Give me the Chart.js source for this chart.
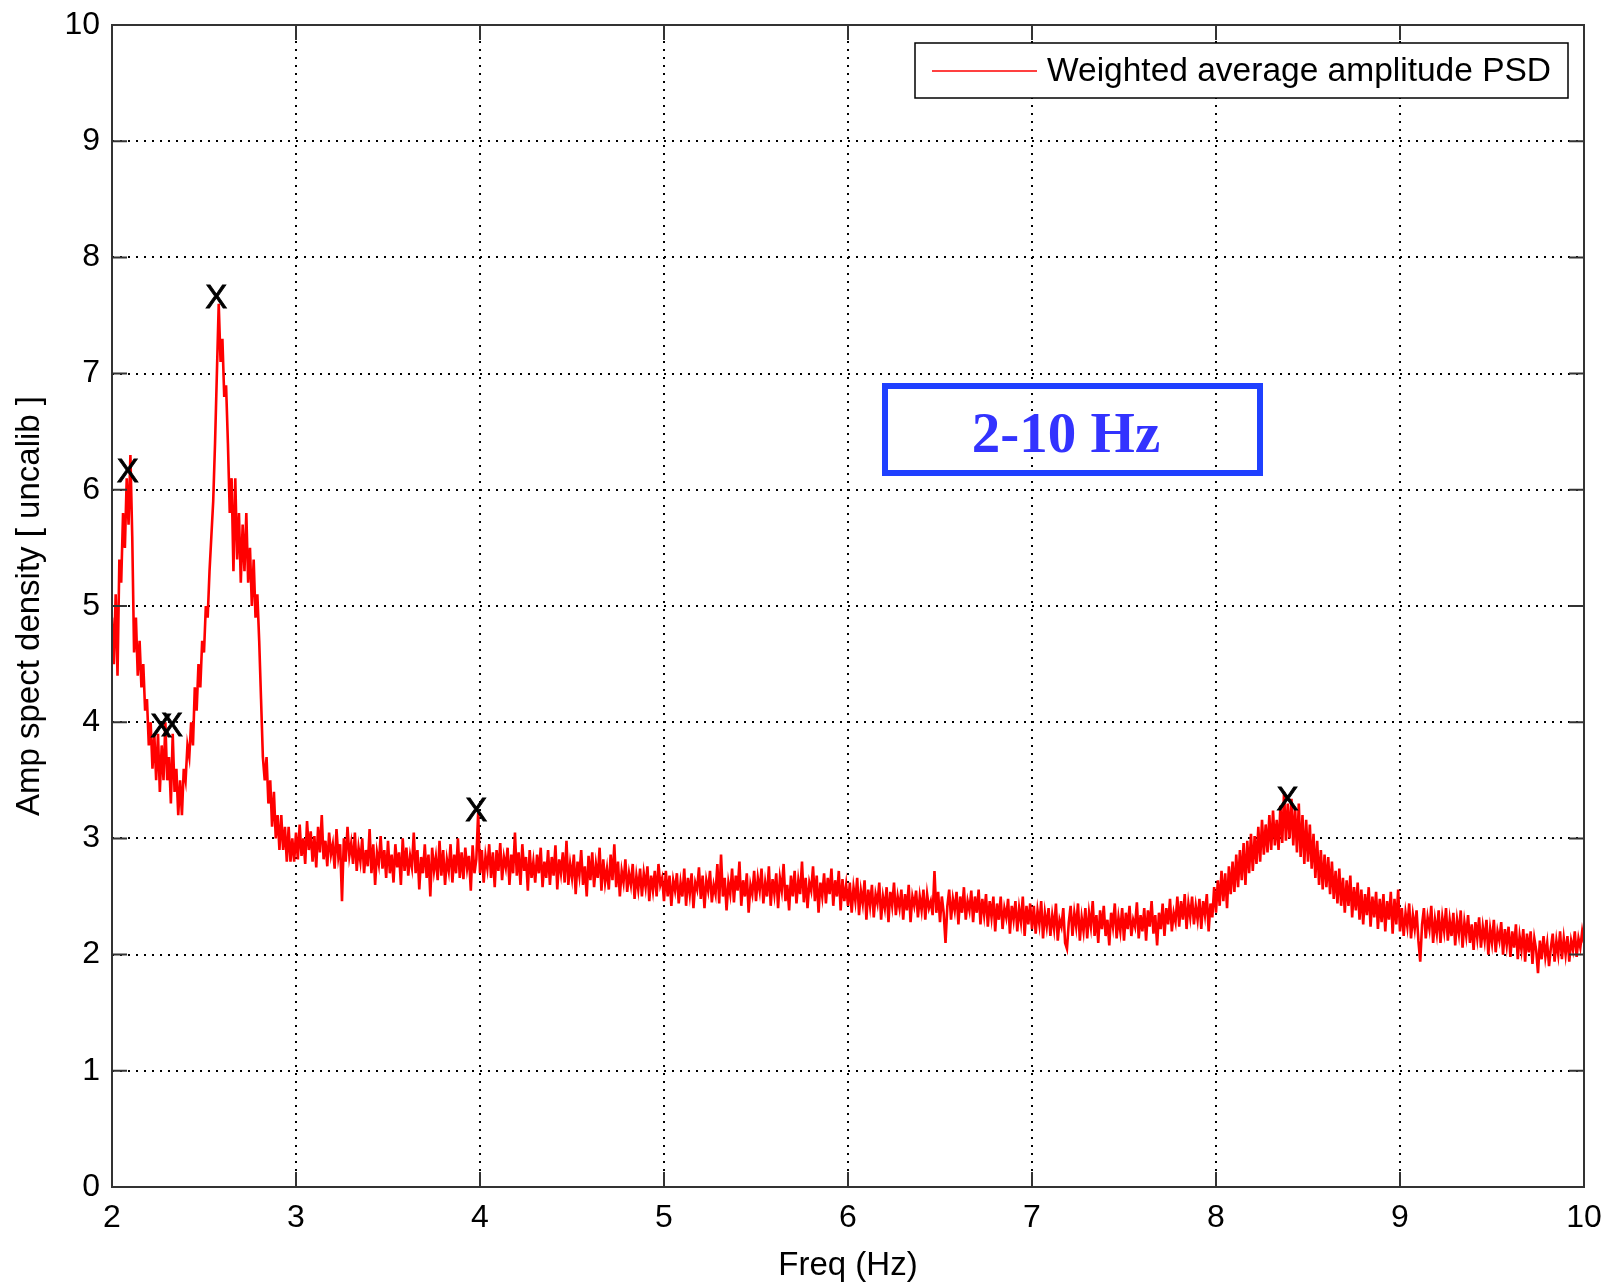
<!DOCTYPE html>
<html>
<head>
<meta charset="utf-8">
<script src="https://cdn.jsdelivr.net/npm/chart.js@4/dist/chart.umd.min.js"></script>
<style>
  html, body { margin: 0; padding: 0; background: #fff; }
  #chart-psd { display: block; }
</style>
</head>
<body>
<canvas id="chart-psd" width="1606" height="1286"></canvas>
<script>
//************ Data (one array per 1 Hz, step 0.01 Hz) */
const freqStart = 2
const freqStep = 0.01

const psd_2 = [4.9, 4.5, 5.1, 4.4, 5.4, 5.2, 5.8, 5.5, 6.1, 5.7,
               6.3, 5.6, 4.6, 4.9, 4.4, 4.7, 4.3, 4.5, 4.1, 4.2,
               3.8, 4.0, 3.6, 3.9, 3.5, 3.9, 3.4, 3.8, 3.5, 4.0,
               3.5, 3.7, 3.3, 3.9, 3.4, 3.6, 3.2, 3.5, 3.2, 3.6,
               3.5, 3.8, 3.7, 4.0, 3.8, 4.3, 4.1, 4.5, 4.3, 4.7,
               4.6, 5.0, 4.9, 5.3, 5.6, 5.9, 6.4, 7.0, 7.6, 7.1,
               7.3, 6.8, 6.9, 6.4, 5.8, 6.1, 5.3, 6.1, 5.4, 5.8,
               5.2, 5.7, 5.3, 5.8, 5.2, 5.5, 5.0, 5.4, 4.9, 5.1,
               4.7, 4.2, 3.7, 3.5, 3.7, 3.3, 3.5, 3.1, 3.4, 3.0,
               3.2, 2.9, 3.2, 2.9, 3.1, 2.8, 3.1, 2.8, 3.0, 2.8]

const psd_3 = [3.05, 2.82, 3.12, 2.85, 3.0, 2.78, 3.15, 2.9, 3.06, 2.8,
               3.02, 2.75, 3.1, 2.88, 3.2, 2.82, 2.98, 2.76, 3.05, 2.86,
               2.95, 2.74, 3.08, 2.84, 2.95, 2.46, 3.0, 2.8, 3.1, 2.85,
               2.96, 2.78, 3.05, 2.72, 2.92, 2.8, 3.0, 2.7, 2.9, 2.76,
               3.08, 2.7, 2.95, 2.6, 2.88, 2.78, 3.02, 2.74, 2.9, 2.66,
               2.98, 2.7, 2.86, 2.62, 2.95, 2.75, 2.88, 2.6, 3.0, 2.72,
               2.92, 2.68, 2.85, 2.75, 3.05, 2.7, 2.9, 2.56, 2.84, 2.7,
               2.95, 2.66, 2.86, 2.5, 2.92, 2.72, 2.84, 2.64, 2.98, 2.68,
               2.9, 2.6, 2.82, 2.72, 2.95, 2.62, 2.86, 2.7, 3.0, 2.66,
               2.88, 2.65, 2.92, 2.74, 2.85, 2.55, 2.94, 2.7, 2.82, 3.22]

const psd_4 = [2.7, 2.9, 2.62, 2.85, 2.74, 2.95, 2.66, 2.88, 2.58, 2.9,
               2.72, 2.96, 2.64, 2.84, 2.75, 2.92, 2.6, 2.86, 2.7, 3.05,
               2.68, 2.88, 2.6, 2.95, 2.72, 2.84, 2.55, 2.9, 2.66, 2.8,
               2.62, 2.86, 2.7, 2.92, 2.58, 2.8, 2.66, 2.9, 2.6, 2.84,
               2.68, 2.94, 2.56, 2.82, 2.7, 2.88, 2.62, 2.98, 2.6, 2.78,
               2.66, 2.86, 2.52, 2.8, 2.68, 2.9, 2.6, 2.76, 2.5, 2.85,
               2.64, 2.88, 2.58, 2.78, 2.66, 2.92, 2.55, 2.82, 2.62, 2.74,
               2.56, 2.86, 2.64, 2.95, 2.58, 2.8, 2.5, 2.72, 2.62, 2.82,
               2.54, 2.7, 2.6, 2.78, 2.48, 2.68, 2.56, 2.74, 2.5, 2.7,
               2.58, 2.76, 2.46, 2.68, 2.55, 2.72, 2.5, 2.78, 2.6, 2.66]

const psd_5 = [2.46, 2.72, 2.5, 2.68, 2.42, 2.64, 2.55, 2.7, 2.44, 2.62,
               2.5, 2.74, 2.42, 2.66, 2.52, 2.7, 2.4, 2.62, 2.56, 2.75,
               2.48, 2.68, 2.4, 2.64, 2.55, 2.72, 2.45, 2.6, 2.52, 2.78,
               2.44, 2.86, 2.5, 2.66, 2.38, 2.62, 2.52, 2.74, 2.45, 2.68,
               2.55, 2.8, 2.42, 2.64, 2.5, 2.7, 2.36, 2.6, 2.52, 2.72,
               2.46, 2.66, 2.55, 2.74, 2.44, 2.62, 2.5, 2.76, 2.42, 2.65,
               2.52, 2.7, 2.4, 2.66, 2.55, 2.78, 2.46, 2.6, 2.38, 2.68,
               2.5, 2.72, 2.44, 2.64, 2.52, 2.8, 2.45, 2.66, 2.4, 2.62,
               2.55, 2.76, 2.46, 2.68, 2.36, 2.62, 2.5, 2.7, 2.44, 2.66,
               2.52, 2.74, 2.42, 2.64, 2.5, 2.72, 2.38, 2.65, 2.46, 2.6]

const psd_6 = [2.42, 2.62, 2.36, 2.58, 2.46, 2.66, 2.34, 2.55, 2.44, 2.64,
               2.3, 2.56, 2.42, 2.6, 2.32, 2.52, 2.44, 2.62, 2.3, 2.5,
               2.4, 2.58, 2.28, 2.54, 2.42, 2.62, 2.34, 2.5, 2.4, 2.56,
               2.3, 2.52, 2.38, 2.6, 2.28, 2.5, 2.42, 2.55, 2.32, 2.5,
               2.38, 2.56, 2.3, 2.52, 2.4, 2.46, 2.34, 2.72, 2.36, 2.54,
               2.28, 2.5, 2.36, 2.1, 2.42, 2.56, 2.3, 2.48, 2.38, 2.54,
               2.26, 2.5, 2.36, 2.58, 2.3, 2.46, 2.38, 2.55, 2.28, 2.5,
               2.36, 2.56, 2.26, 2.48, 2.34, 2.52, 2.24, 2.46, 2.32, 2.5,
               2.2, 2.44, 2.3, 2.5, 2.22, 2.4, 2.32, 2.48, 2.18, 2.42,
               2.3, 2.46, 2.2, 2.4, 2.28, 2.5, 2.16, 2.42, 2.26, 2.44]

const psd_7 = [2.22, 2.42, 2.18, 2.38, 2.26, 2.46, 2.14, 2.36, 2.24, 2.4,
               2.16, 2.34, 2.22, 2.44, 2.12, 2.3, 2.24, 2.4, 2.1, 2.05,
               2.28, 2.42, 2.16, 2.36, 2.24, 2.44, 2.12, 2.32, 2.2, 2.4,
               2.14, 2.36, 2.24, 2.46, 2.16, 2.34, 2.1, 2.38, 2.22, 2.42,
               2.16, 2.3, 2.08, 2.36, 2.24, 2.44, 2.14, 2.32, 2.2, 2.4,
               2.12, 2.36, 2.22, 2.42, 2.16, 2.3, 2.24, 2.45, 2.14, 2.34,
               2.2, 2.4, 2.12, 2.38, 2.24, 2.46, 2.18, 2.34, 2.08, 2.36,
               2.22, 2.44, 2.16, 2.4, 2.26, 2.48, 2.2, 2.36, 2.28, 2.5,
               2.24, 2.46, 2.3, 2.52, 2.22, 2.44, 2.32, 2.5, 2.26, 2.42,
               2.3, 2.48, 2.22, 2.46, 2.34, 2.52, 2.2, 2.44, 2.32, 2.58]

const psd_8 = [2.36, 2.64, 2.42, 2.72, 2.46, 2.7, 2.4, 2.76, 2.52, 2.8,
               2.54, 2.86, 2.58, 2.9, 2.64, 2.96, 2.6, 2.98, 2.7, 3.04,
               2.72, 3.02, 2.78, 3.1, 2.8, 3.16, 2.86, 3.12, 2.88, 3.2,
               2.9, 3.24, 2.94, 3.16, 2.9, 3.28, 2.96, 3.4, 2.98, 3.3,
               3.0, 3.34, 2.94, 3.26, 2.88, 3.3, 2.84, 3.2, 2.78, 3.16,
               2.8, 3.12, 2.74, 3.04, 2.66, 2.98, 2.6, 2.9, 2.56, 2.86,
               2.58, 2.84, 2.52, 2.8, 2.48, 2.72, 2.44, 2.74, 2.42, 2.66,
               2.36, 2.64, 2.42, 2.68, 2.32, 2.58, 2.38, 2.62, 2.3, 2.56,
               2.26, 2.52, 2.34, 2.58, 2.24, 2.5, 2.32, 2.54, 2.22, 2.48,
               2.28, 2.52, 2.2, 2.46, 2.3, 2.54, 2.18, 2.48, 2.26, 2.56]

const psd_9 = [2.2, 2.4, 2.16, 2.36, 2.24, 2.44, 2.14, 2.34, 2.22, 2.38,
               2.12, 1.94, 2.26, 2.4, 2.14, 2.32, 2.22, 2.42, 2.1, 2.3,
               2.18, 2.38, 2.1, 2.32, 2.2, 2.4, 2.12, 2.3, 2.16, 2.36,
               2.08, 2.3, 2.18, 2.38, 2.06, 2.28, 2.16, 2.34, 2.1, 2.26,
               2.04, 2.28, 2.14, 2.32, 2.06, 2.24, 2.12, 2.3, 2.0, 2.22,
               2.1, 2.3, 2.02, 2.2, 2.12, 2.28, 2.0, 2.22, 2.08, 2.24,
               1.98, 2.2, 2.06, 2.26, 1.96, 2.16, 2.04, 2.22, 1.94, 2.18,
               2.02, 2.2, 1.92, 2.14, 2.04, 1.84, 2.12, 1.96, 2.16, 1.98,
               2.1, 1.9, 2.06, 2.18, 1.94, 2.12, 2.0, 2.2, 1.96, 2.14,
               2.0, 2.16, 1.94, 2.12, 2.04, 2.2, 1.98, 2.14, 2.06, 2.2]

const psd_10 = [2.1]

// peaks marked with an X
const peakFreq = [2.085, 2.268, 2.326, 2.567, 3.979, 8.389]
const peakAmp = [6.15, 3.96, 3.97, 7.65, 3.24, 3.33]

const legendText = 'Weighted average amplitude PSD'
const bandText = '2-10 Hz'

//************ Build points */
var segments = [psd_2, psd_3, psd_4, psd_5, psd_6, psd_7, psd_8, psd_9, psd_10]
var points = []
segments.forEach((seg, k) => {
    seg.forEach((v, i) => {
        points.push({ x: freqStart + k + i * freqStep, y: v })
    })
})

const FONT = 'Liberation Sans, Arial, Helvetica, sans-serif'
const AXIS_COLOR = '#333333'

// kill the extra padding chart.js adds for the edge tick labels
function noLabelPadding(s) {
    s.paddingTop = 0
    s.paddingBottom = 0
    s.paddingLeft = 0
    s.paddingRight = 0
}

//************ Plugin: box, inner ticks, markers, legend, annotation */
var matlabPlugin = {
    id: 'matlabStuff',
    afterDraw(chart) {
        const ctx = chart.ctx
        const a = chart.chartArea
        const xs = chart.scales.x
        const ys = chart.scales.y
        ctx.save()

        // axes box
        ctx.strokeStyle = AXIS_COLOR
        ctx.lineWidth = 2
        ctx.strokeRect(a.left, a.top, a.right - a.left, a.bottom - a.top)

        // ticks inside, all four sides
        const tl = 15
        ctx.beginPath()
        xs.ticks.forEach(t => {
            const px = xs.getPixelForValue(t.value)
            ctx.moveTo(px, a.bottom); ctx.lineTo(px, a.bottom - tl)
            ctx.moveTo(px, a.top); ctx.lineTo(px, a.top + tl)
        })
        ys.ticks.forEach(t => {
            const py = ys.getPixelForValue(t.value)
            ctx.moveTo(a.left, py); ctx.lineTo(a.left + tl, py)
            ctx.moveTo(a.right, py); ctx.lineTo(a.right - tl, py)
        })
        ctx.stroke()

        // X markers on peaks
        ctx.fillStyle = '#000'
        ctx.strokeStyle = '#000'
        ctx.lineWidth = 0.8
        ctx.font = '33px ' + FONT
        ctx.textAlign = 'center'
        ctx.textBaseline = 'middle'
        peakFreq.forEach((f, i) => {
            const px = xs.getPixelForValue(f)
            const py = ys.getPixelForValue(peakAmp[i]) + 1
            ctx.fillText('X', px, py)
            ctx.strokeText('X', px, py)
        })

        // legend box
        const lx = 915, ly = 43, lw = 653, lh = 55
        ctx.fillStyle = '#fff'
        ctx.fillRect(lx, ly, lw, lh)
        ctx.strokeStyle = '#000'
        ctx.lineWidth = 1.5
        ctx.strokeRect(lx, ly, lw, lh)
        ctx.strokeStyle = '#ff0000'
        ctx.lineWidth = 1.5
        ctx.beginPath()
        ctx.moveTo(lx + 17, ly + 28)
        ctx.lineTo(lx + 122, ly + 28)
        ctx.stroke()
        ctx.fillStyle = '#000'
        ctx.textAlign = 'left'
        ctx.textBaseline = 'middle'
        ctx.font = '33.5px ' + FONT
        ctx.fillText(legendText, lx + 132, ly + 29)

        // 2-10 Hz annotation
        ctx.strokeStyle = '#1f40ff'
        ctx.lineWidth = 6
        ctx.strokeRect(885, 386, 375, 87)
        ctx.fillStyle = '#3333ff'
        ctx.textAlign = 'center'
        ctx.textBaseline = 'alphabetic'
        ctx.font = 'bold 57px Liberation Serif, Times New Roman, serif'
        ctx.fillText(bandText, 1066, 452)

        ctx.restore()
    }
}

//************ Chart */
var config = {
    type: 'line',
    data: {
        datasets: [{
            label: legendText,
            data: points,
            borderColor: '#ff0000',
            borderWidth: 2.6,
            pointRadius: 0,
            fill: false,
            tension: 0
        }]
    },
    options: {
        responsive: false,
        animation: false,
        devicePixelRatio: 1,
        parsing: false,
        layout: { padding: { top: 25, right: 22, left: 0, bottom: 0 } },
        plugins: {
            legend: { display: false },
            tooltip: { enabled: false }
        },
        scales: {
            x: {
                type: 'linear',
                min: 2,
                max: 10,
                ticks: {
                    stepSize: 1,
                    color: '#000',
                    padding: 12,
                    maxRotation: 0,
                    font: { family: FONT, size: 32 }
                },
                grid: { color: '#000', lineWidth: 2, drawTicks: false },
                border: { display: false, dash: [2, 6] },
                title: {
                    display: true,
                    text: 'Freq (Hz)',
                    color: '#000',
                    font: { family: FONT, size: 33, lineHeight: 1.2 },
                    padding: { top: 0, bottom: 0 }
                },
                afterFit: (s) => { s.height = 99; noLabelPadding(s) }
            },
            y: {
                type: 'linear',
                min: 0,
                max: 10,
                ticks: {
                    stepSize: 1,
                    color: '#000',
                    padding: 12,
                    font: { family: FONT, size: 32 }
                },
                grid: { color: '#000', lineWidth: 2, drawTicks: false },
                border: { display: false, dash: [2, 6] },
                title: {
                    display: true,
                    text: 'Amp spect density [ uncalib ]',
                    color: '#000',
                    font: { family: FONT, size: 33, lineHeight: 1.2 },
                    padding: { top: 10, bottom: 10 }
                },
                afterFit: (s) => { s.width = 112; noLabelPadding(s) }
            }
        }
    },
    plugins: [matlabPlugin]
}

var ctx_psd = document.getElementById('chart-psd').getContext('2d')
var myChart_psd = new Chart(ctx_psd, config)
</script>
</body>
</html>
